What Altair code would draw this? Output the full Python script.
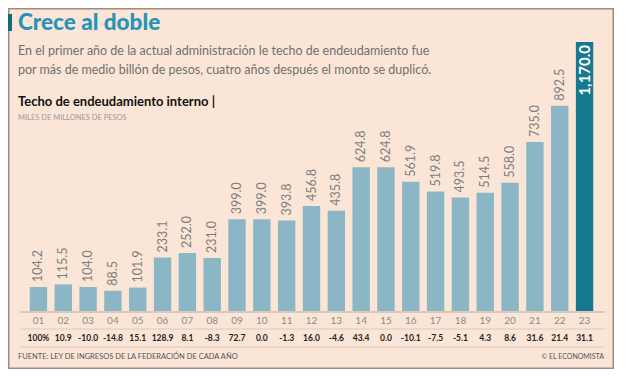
import altair as alt
import pandas as pd

years = ["01", "02", "03", "04", "05", "06", "07", "08", "09", "10", "11", "12",
         "13", "14", "15", "16", "17", "18", "19", "20", "21", "22", "23"]
values = [104.2, 115.5, 104.0, 88.5, 101.9, 233.1, 252.0, 231.0, 399.0, 399.0, 393.8,
          456.8, 435.8, 624.8, 624.8, 561.9, 519.8, 493.5, 514.5, 558.0, 735.0, 892.5, 1170.0]
growth = ["100%", "10.9", "-10.0", "-14.8", "15.1", "128.9", "8.1", "-8.3", "72.7", "0.0",
          "-1.3", "16.0", "-4.6", "43.4", "0.0", "-10.1", "-7.5", "-5.1", "4.3", "8.6",
          "31.6", "21.4", "31.1"]
kinds = ["base"] * 22 + ["last"]

title_text = "Crece al doble"
subtitle_lines = [
    "En el primer año de la actual administración le techo de endeudamiento fue",
    "por más de medio billón de pesos, cuatro años después el monto se duplicó.",
]
chart_title = "Techo de endeudamiento interno |"
unit_text = "MILES DE MILLONES DE PESOS"
source_text = "FUENTE: LEY DE INGRESOS DE LA FEDERACIÓN DE CADA AÑO"
credit_text = "© EL ECONOMISTA"

df = pd.DataFrame({
    "year": years,
    "value": values,
    "growth": growth,
    "kind": kinds,
    "label": [f"{v:,.1f}" for v in values],
})

FONT = "Lato"
x_enc = alt.X("year:O", axis=None,
              scale=alt.Scale(range=[21.75, 585.25], paddingInner=0.3, paddingOuter=0))
y_enc = alt.Y("value:Q", axis=None, scale=alt.Scale(domain=[0, 1170], range=[303, 34]))

base = alt.Chart(df)

bars = base.mark_bar().encode(
    x=x_enc,
    y=y_enc,
    color=alt.Color("kind:N", legend=None,
                    scale=alt.Scale(domain=["base", "last"], range=["#8ab6c6", "#16798f"])),
)

labels = base.transform_filter(alt.datum.kind == "base").mark_text(
    angle=270, align="left", baseline="middle", dx=5, font=FONT, fontSize=12.5,
    color="#7d7d7d"
).encode(x=x_enc, y=y_enc, text="label:N")

last_label = base.transform_filter(alt.datum.kind == "last").mark_text(
    angle=270, align="right", baseline="middle", dx=-3, font=FONT, fontSize=15,
    fontWeight="bold", color="white"
).encode(x=x_enc, y=y_enc, text="label:N")

xlabels = base.mark_text(font=FONT, fontSize=10, color="#8a8a8a", baseline="middle").encode(
    x=x_enc, y=alt.value(313), text="year:N")

glabels = base.mark_text(font=FONT, fontSize=8.5, fontWeight="bold", color="#222222",
                         baseline="middle").encode(
    x=x_enc, y=alt.value(330), text="growth:N")

one = alt.Data(values=[{"a": 1}])

def rule(yv, color, w):
    return alt.Chart(one).mark_rule(color=color, strokeWidth=w).encode(
        x=alt.value(12), x2=alt.value(597), y=alt.value(yv))

rules = rule(304, "#b9aca3", 1.2) + rule(321, "#dccbbd", 1) + rule(339, "#dccbbd", 1)

def txt(text, x, y, size, color, weight="normal", align="left", font=FONT):
    return alt.Chart(one).mark_text(
        text=text, align=align, baseline="middle", fontSize=size, color=color,
        fontWeight=weight, font=font
    ).encode(x=alt.value(x), y=alt.value(y))

marker = alt.Chart(one).mark_rect(color="#16687c").encode(
    x=alt.value(0), x2=alt.value(4), y=alt.value(6), y2=alt.value(23))

texts = (
    txt(title_text, 10, 15, 22.5, "#2793b8", weight=900)
    + txt(subtitle_lines[0], 10, 43, 12.5, "#707070")
    + txt(subtitle_lines[1], 10, 62, 12.5, "#707070")
    + txt(chart_title, 10, 94, 13, "#111111", weight="bold")
    + txt(unit_text, 10, 110, 7.5, "#9a9a9a")
    + txt(source_text, 10, 349, 7.5, "#555555")
    + txt(credit_text, 596, 349, 7, "#555555", align="right")
)

chart = alt.layer(rules, bars, labels, last_label, xlabels, glabels, marker, texts).properties(
    width=606, height=361,
    autosize=alt.AutoSizeParams(type="none"),
    padding=0,
    background="#fbe5d6",
).configure_view(stroke="#a08c7e", strokeWidth=3)

chart.save("out.html", embed_options={"renderer": "svg", "actions": False})
